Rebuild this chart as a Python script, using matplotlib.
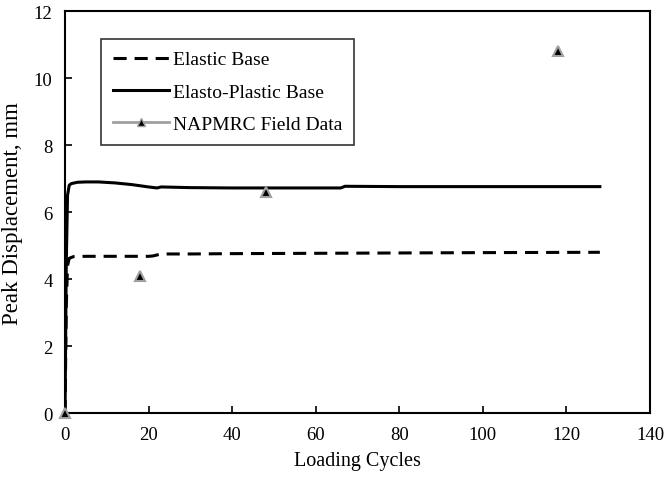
import matplotlib.pyplot as plt
from matplotlib.lines import Line2D

plt.rcParams['font.family'] = ['Liberation Serif', 'DejaVu Serif']

# Elastic base curve
elastic_x = [0, 0.3, 0.6, 1.0, 2, 5, 10, 15, 20, 21, 23, 30, 40, 60, 80, 100, 128]
elastic_y = [0, 3.2, 4.4, 4.62, 4.67, 4.68, 4.68, 4.68, 4.68, 4.69, 4.75, 4.75, 4.76, 4.77, 4.78, 4.79, 4.8]

# Elasto-plastic base curve
plastic_x = [0, 0.3, 0.6, 1.0, 1.5, 3, 5, 8, 12, 16, 20, 22, 23, 30, 40, 50, 60, 66, 67, 80, 100, 128]
plastic_y = [0, 4.5, 6.5, 6.8, 6.85, 6.89, 6.9, 6.9, 6.87, 6.82, 6.75, 6.72, 6.75, 6.73, 6.72, 6.72, 6.72, 6.72, 6.77, 6.76, 6.76, 6.76]

# NAPMRC field data
field_x = [0, 18, 48, 118]
field_y = [0, 4.1, 6.6, 10.8]

dash = (0, (4.3, 2.6))

fig = plt.figure(figsize=(6.67, 4.81), dpi=100)
ax = fig.add_axes([0.0975, 0.139, 0.877, 0.836])

ax.plot(elastic_x, elastic_y, color='black', linestyle=dash, linewidth=2.2)
ax.plot(plastic_x, plastic_y, color='black', linewidth=2.2)
ax.plot(field_x, field_y, linestyle='none', marker='^', markersize=7,
        markerfacecolor='black', markeredgecolor='#a0a0a0', markeredgewidth=1.5,
        clip_on=False, zorder=5)

ax.set_xlim(0, 140)
ax.set_ylim(0, 12)
ax.set_xticks(range(0, 141, 20))
ax.set_yticks(range(0, 13, 2))
ax.tick_params(direction='in', length=5, width=1.2, labelsize=13.5, pad=9)
for s in ax.spines.values():
    s.set_linewidth(1.5)

ax.set_xlabel('Loading Cycles', fontsize=14.5, labelpad=6)
ax.set_ylabel('Peak Displacement, mm', fontsize=16.5, labelpad=8)

handles = [
    Line2D([], [], color='black', linestyle=dash, linewidth=2.2),
    Line2D([], [], color='black', linewidth=2.2),
    Line2D([], [], color='#a0a0a0', linewidth=2, marker='^', markersize=6,
           markerfacecolor='black', markeredgecolor='#a0a0a0'),
]
labels = ['Elastic Base', 'Elasto-Plastic Base', 'NAPMRC Field Data']
leg = ax.legend(handles, labels, loc='upper left', bbox_to_anchor=(0.0615, 0.93),
                borderaxespad=0, fontsize=14, frameon=True, fancybox=False,
                edgecolor='black', borderpad=0.6, labelspacing=0.75,
                handlelength=2.9, handletextpad=0.2)
leg.get_frame().set_linewidth(1.2)

fig.savefig('out.png')
